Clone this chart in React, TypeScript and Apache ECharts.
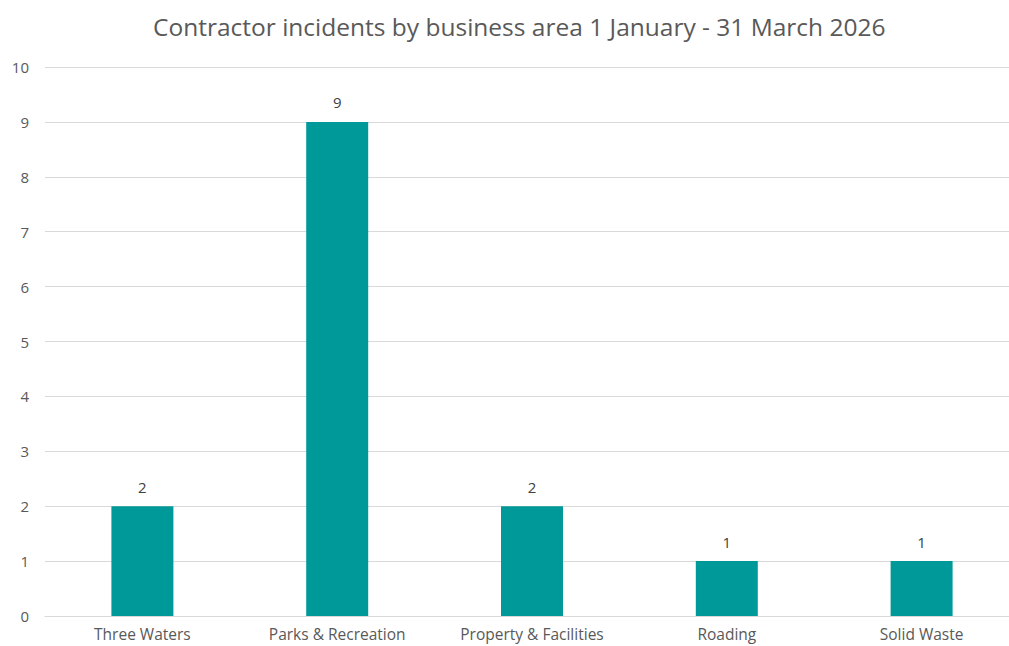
import React, { useEffect, useRef } from "react";
import * as echarts from "echarts";

const categories = ["Three Waters", "Parks & Recreation", "Property & Facilities", "Roading", "Solid Waste"];
const incidents = [2, 9, 2, 1, 1];
const titleText = "Contractor incidents by business area 1 January - 31 March 2026";

export default function App() {
  const ref = useRef<HTMLDivElement>(null);
  useEffect(() => {
    const chart = echarts.init(ref.current!, null, { renderer: "svg" });
    const font = "'Open Sans', sans-serif";
    chart.setOption({
      animation: false,
      textStyle: { fontFamily: font },
      title: {
        text: titleText,
        left: 148,
        top: 9,
        textStyle: { fontSize: 24.5, fontWeight: "normal", color: "#595959", fontFamily: font },
      },
      grid: { left: 45, right: 0, top: 67, bottom: 30, containLabel: false },
      xAxis: {
        type: "category",
        data: categories,
        axisLine: { lineStyle: { color: "#d9d9d9" } },
        axisTick: { show: false },
        axisLabel: { color: "#595959", fontSize: 15.5, margin: 10, fontFamily: font, interval: 0 },
      },
      yAxis: {
        type: "value",
        min: 0,
        max: 10,
        interval: 1,
        axisLine: { show: false },
        axisTick: { show: false },
        axisLabel: { color: "#595959", fontSize: 15, margin: 16, fontFamily: font },
        splitLine: { lineStyle: { color: "#d9d9d9" } },
      },
      series: [
        {
          type: "bar",
          data: incidents,
          barWidth: 62,
          itemStyle: { color: "#009999" },
          label: { show: true, position: "top", distance: 12, color: "#404040", fontSize: 15, fontFamily: font },
        },
      ],
    });
    return () => chart.dispose();
  }, []);
  return (
    <div style={{ position: "fixed", left: 0, top: 0, width: 1009, height: 646, overflow: "hidden", background: "#fff" }}>
      <div ref={ref} style={{ position: "absolute", left: 0, top: 0, width: 1019, height: 646 }} />
    </div>
  );
}
